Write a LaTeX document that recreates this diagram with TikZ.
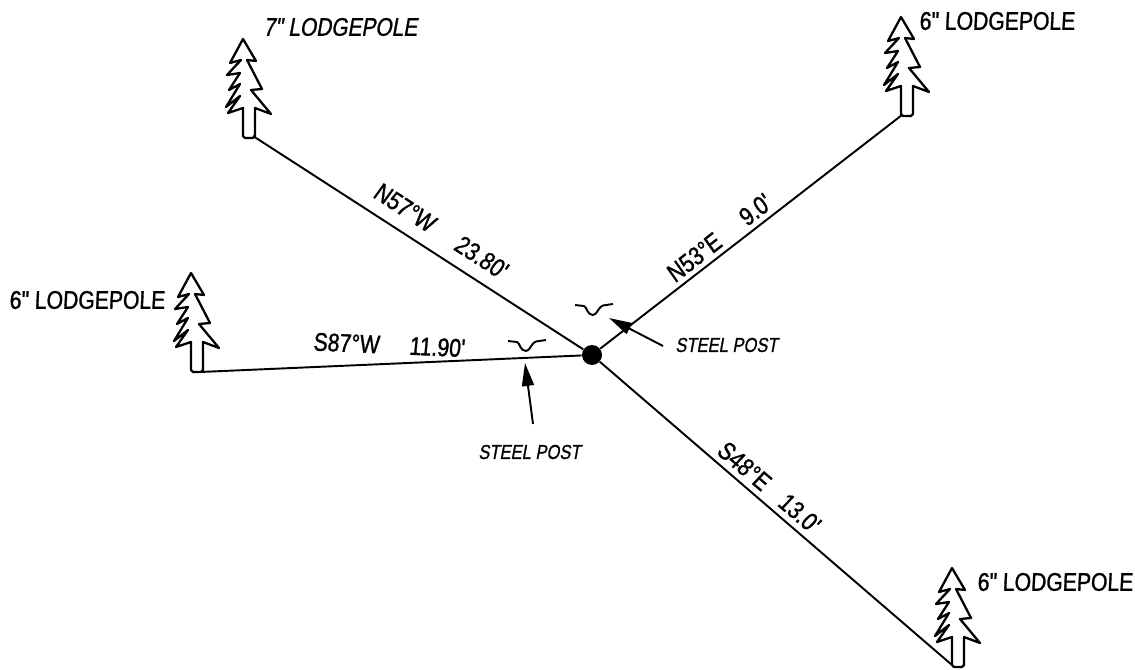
\documentclass[tikz,border=0pt]{standalone}
\usepackage{fontspec}
\newfontfamily\surveyfont[FakeStretch=0.83, FakeSlant=0.05, FakeBold=1.2]{Liberation Sans}
\newfontfamily\slantfont[FakeStretch=0.82, FakeSlant=0.18, FakeBold=1]{Liberation Sans}
\usetikzlibrary{arrows.meta}

\begin{document}
\begin{tikzpicture}[x=0.02cm, y=-0.02cm,
  every node/.style={inner sep=0pt},
  %
  treelabel/.style={font=\surveyfont\fontsize{14.5}{16}\selectfont},
  %
  postlabel/.style={font=\slantfont\fontsize{11.5}{13}\selectfont},
  %
  bearing/.style={font=\surveyfont\fontsize{14.5}{16}\selectfont},
  %
  tie/.style={line width=1.1pt},
  %
  pointer/.style={line width=1.1pt, -{Triangle[length=0.46cm, width=0.24cm]}},
  %
  post/.style={circle, fill=black, minimum size=0.4cm},
  %
  pine/.pic={
    \draw [line width=1.3pt, line join=round, fill=white]
    (-6,-99) -- (7,-77) -- (-2,-78) -- (13,-49) -- (2,-48) -- (22,-24)
    -- (6,-30) -- (6,-2) -- (4,0) -- (-4,0) -- (-6,-2) -- (-6,-30)
    -- (-21,-25) -- (-9,-42) -- (-23,-31) -- (-9,-54) -- (-20,-48)
    -- (-9,-65) -- (-22,-63) -- (-8,-78) -- (-19,-75) -- cycle;
  },
  %
  channel/.pic={
    \draw [line width=1.1pt]
    (-19,-1) -- (-10,0) .. controls (-7,1) and (-7,9) .. (-1,9)
    .. controls (3,9) and (5,0) .. (9,-0.5) -- (19,-2);
  }
  ]

  \useasboundingbox (0,0) rectangle (1135,669);

  % trees
  \coordinate (treeNW) at (253,136);
  \coordinate (treeNE) at (902,115);
  \coordinate (treeW) at (200,372);
  \coordinate (treeSE) at (952,665);
  \pic at (249,138) {pine};
  \pic at (907,116) {pine};
  \pic at (197,372) {pine};
  \pic at (958,667) {pine};

  % ties
  \node [post] (center) at (592,355) {};
  \draw [tie] (treeNW) -- (center);
  \draw [tie] (treeNE) -- (center);
  \draw [tie] (treeW) -- (center);
  \draw [tie] (treeSE) -- (center);

  % steel posts
  \pic at (527,342) {channel};
  \pic at (594,306) {channel};
  \coordinate (pointW) at (525,363);
  \coordinate (pointNE) at (609,318);
  \node [postlabel, anchor=west] (postNE) at (675,345) {STEEL POST};
  \node [postlabel, anchor=west] (postW) at (478,452) {STEEL POST};
  \coordinate (tailW) at (533,424);
  \coordinate (tailNE) at (663,346);
  \draw [pointer] (tailW) -- (pointW);
  \draw [pointer] (tailNE) -- (pointNE);

  % tree labels
  \node [treelabel, anchor=west, font=\slantfont\fontsize{14.5}{16}\selectfont] (labelNW) at (263,27) {7" LODGEPOLE};
  \node [treelabel, anchor=west] (labelNE) at (919,21) {6" LODGEPOLE};
  \node [treelabel, anchor=west] (labelW) at (9,300) {6" LODGEPOLE};
  \node [treelabel, anchor=west] (labelSE) at (977,582) {6" LODGEPOLE};

  % bearings
  \node [bearing, rotate=-33] (bearingNW) at (441,231) {N57°W\hspace{0.58cm}23.80'};
  \node [bearing, rotate=38] (bearingNE) at (719,238) {N53°E\hspace{0.6cm}9.0'};
  \node [bearing, rotate=-2.5] (bearingW) at (389,345) {S87°W\hspace{0.6cm}11.90'};
  \node [bearing, rotate=-40.5] (bearingSE) at (769,487) {S48°E\hspace{0.4cm}13.0'};
\end{tikzpicture}
\end{document}
